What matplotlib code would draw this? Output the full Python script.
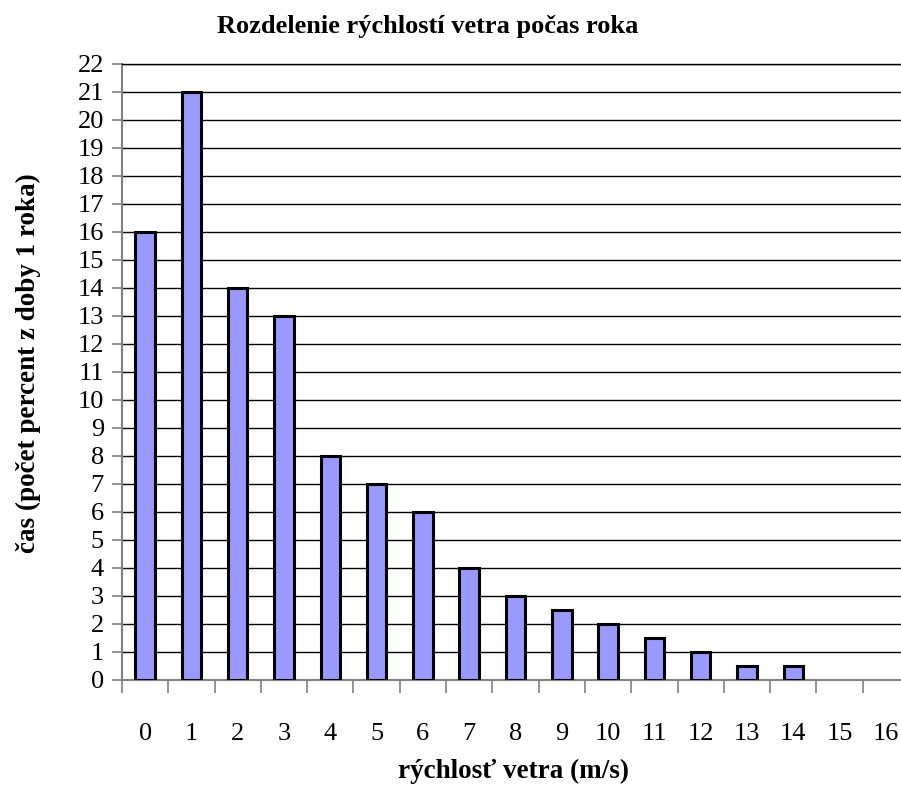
"""Wind speed distribution over a year (Excel-style bar chart)."""

import matplotlib

matplotlib.use("Agg")
import matplotlib.pyplot as plt
import numpy as np

# --- Data ------------------------------------------------------------------

SPEED_LABELS = [str(v) for v in range(17)]  # categories on the x axis (m/s)
TIME_PERCENT = [16, 21, 14, 13, 8, 7, 6, 4, 3, 2.5, 2, 1.5, 1, 0.5, 0.5]

TITLE = "Rozdelenie rýchlostí vetra počas roka"
XLABEL = "rýchlosť vetra (m/s)"
YLABEL = "čas (počet percent z doby 1 roka)"

# --- Style -----------------------------------------------------------------

W, H, DPI = 901, 785, 100
FONT = ["Liberation Serif", "DejaVu Serif"]
BAR_COLOR = "#9999FF"
AXIS_GRAY = "#808080"

# plot area in pixels (right edge runs past the canvas, as in the source)
LEFT_PX, RIGHT_PX, TOP_PX, BOTTOM_PX = 122, 909, 64, 680


def main() -> None:
    plt.rcParams["font.family"] = FONT
    fig = plt.figure(figsize=(W / DPI, H / DPI), dpi=DPI)
    ax = fig.add_axes(
        [
            LEFT_PX / W,
            1 - BOTTOM_PX / H,
            (RIGHT_PX - LEFT_PX) / W,
            (BOTTOM_PX - TOP_PX) / H,
        ]
    )

    n = len(SPEED_LABELS)
    idx = np.arange(len(TIME_PERCENT))
    ax.bar(idx, TIME_PERCENT, width=0.42, color=BAR_COLOR, edgecolor="black",
           linewidth=2.2, zorder=3)

    ax.set_xlim(-0.5, n - 0.5)
    ax.set_ylim(0, 22)

    # y axis
    ax.set_yticks(np.arange(0, 23, 1))
    ax.yaxis.grid(True, color="black", linewidth=1.0, zorder=0)
    ax.tick_params(axis="y", direction="out", length=7, width=1.2,
                   color=AXIS_GRAY, labelsize=19, pad=6)

    # x axis: tick marks at category boundaries, labels at centres
    ax.set_xticks(np.arange(n + 1) - 0.5)
    ax.set_xticklabels([])
    ax.tick_params(axis="x", which="major", direction="out", length=9,
                   width=1.2, color=AXIS_GRAY)
    ax.set_xticks(np.arange(n), minor=True)
    ax.set_xticklabels(SPEED_LABELS, minor=True)
    ax.tick_params(axis="x", which="minor", length=0, labelsize=19, pad=31)

    for side in ("left", "bottom"):
        ax.spines[side].set_color(AXIS_GRAY)
        ax.spines[side].set_linewidth(1.5)
    ax.spines["top"].set_color("black")
    ax.spines["top"].set_linewidth(1.0)
    ax.spines["right"].set_visible(False)

    fig.text(428 / W, 1 - 27 / H, TITLE, ha="center", va="center",
             fontsize=19, fontweight="bold")
    fig.text(514 / W, 1 - 771 / H, XLABEL, ha="center", va="center",
             fontsize=19.5, fontweight="bold")
    fig.text(28 / W, 1 - 363 / H, YLABEL, ha="center", va="center",
             rotation=90, fontsize=19.5, fontweight="bold")

    fig.savefig("out.png", dpi=DPI)
    plt.close(fig)


if __name__ == "__main__":
    main()
